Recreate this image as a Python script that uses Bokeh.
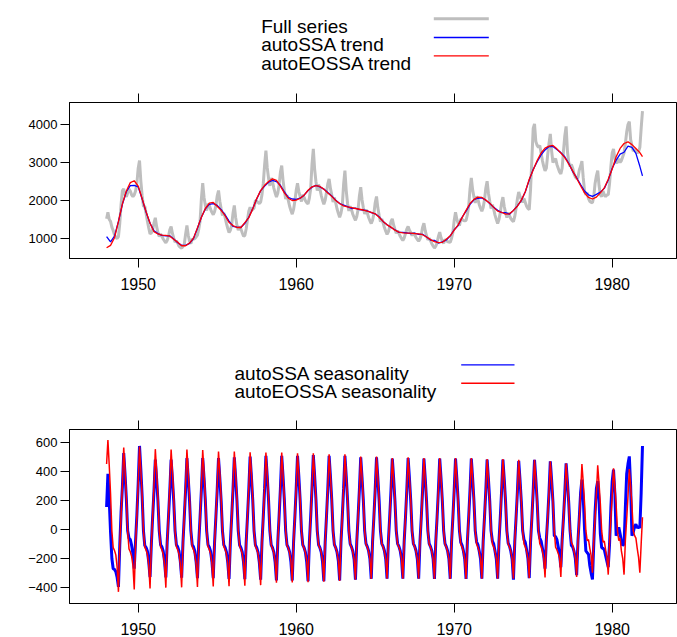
from bokeh.plotting import figure
from bokeh.layouts import column
from bokeh.models import Range1d, LinearAxis, FixedTicker
from bokeh.core.properties import value
from bokeh.embed import file_html
from bokeh.resources import INLINE

FONT = "Liberation Sans"
START_YEAR = 1948

# ---------------- data (monthly, Jan 1948 .. Dec 1981) ----------------
full_series = [
    1518, 1693, 1500, 1450, 1300, 1210, 1100, 1030, 1000, 1050, 1400, 1900,  # 1948
    2262, 2307, 2150, 2100, 2200, 2300, 2250, 2150, 2100, 2150, 2250, 2450,  # 1949
    2849, 3052, 2512, 2128, 1845, 1846, 1656, 1454, 1281, 1123, 1144, 1238,  # 1950
    1410, 1544, 1313, 1158, 1050, 1120, 1060, 987, 933, 890, 948, 1057,      # 1951
    1229, 1315, 1134, 1008, 905, 943, 876, 800, 770, 745, 790, 850,          # 1952
    1115, 1342, 1086, 931, 863, 987, 980, 1000, 1040, 1090, 1248, 1457,      # 1953
    2051, 2455, 2081, 1872, 1735, 1917, 1879, 1767, 1688, 1627, 1704, 1866,  # 1954
    2119, 2262, 1979, 1785, 1609, 1675, 1558, 1400, 1270, 1154, 1218, 1353,  # 1955
    1667, 1868, 1552, 1345, 1218, 1314, 1254, 1150, 1060, 1080, 1250, 1495,  # 1956
    1720, 1824, 1730, 1770, 1800, 2000, 1990, 1950, 1920, 1960, 2150, 2450,  # 1957
    2929, 3315, 2864, 2588, 2385, 2593, 2501, 2327, 2198, 2093, 2192, 2407,  # 1958
    2740, 2920, 2530, 2260, 2039, 2145, 2003, 1850, 1735, 1639, 1765, 1988,  # 1959
    2267, 2455, 2236, 2103, 1973, 2151, 2083, 1993, 1942, 1909, 2062, 2311,  # 1960
    2953, 3359, 2828, 2493, 2260, 2420, 2307, 2137, 2008, 1901, 2004, 2212,  # 1961
    2440, 2570, 2320, 2150, 1959, 2075, 1943, 1783, 1662, 1559, 1662, 1861,  # 1962
    2423, 2788, 2262, 1924, 1725, 1850, 1761, 1639, 1551, 1478, 1578, 1761,  # 1963
    2122, 2350, 2021, 1809, 1646, 1761, 1673, 1554, 1466, 1394, 1482, 1647,  # 1964
    1941, 2105, 1808, 1609, 1444, 1513, 1410, 1288, 1192, 1109, 1175, 1307,  # 1965
    1447, 1518, 1357, 1245, 1139, 1208, 1138, 1057, 998, 949, 1014, 1132,    # 1966
    1245, 1315, 1219, 1158, 1077, 1153, 1100, 1027, 973, 930, 988, 1097,     # 1967
    1294, 1403, 1205, 1072, 963, 1011, 943, 863, 802, 749, 797, 891,         # 1968
    1054, 1166, 1020, 927, 873, 971, 953, 920, 905, 899, 1007, 1161,         # 1969
    1476, 1693, 1505, 1403, 1339, 1515, 1508, 1473, 1467, 1474, 1625, 1846,  # 1970
    2303, 2596, 2281, 2094, 1936, 2108, 2033, 1897, 1798, 1719, 1819, 2014,  # 1971
    2325, 2508, 2193, 1983, 1791, 1891, 1769, 1617, 1498, 1397, 1497, 1683,  # 1972
    1938, 2087, 1843, 1681, 1549, 1678, 1603, 1524, 1476, 1444, 1582, 1797,  # 1973
    2044, 2226, 2102, 2020, 1950, 2050, 1950, 1850, 1790, 1760, 2300, 3100,  # 1974
    3900, 4017, 3550, 3450, 3400, 3450, 3250, 3050, 2900, 2780, 2850, 3200,  # 1975
    3500, 3754, 3300, 3000, 3050, 3100, 2950, 2850, 2750, 2700, 2850, 3300,  # 1976
    3700, 3950, 3300, 3000, 2900, 2950, 2850, 2700, 2620, 2580, 2600, 2800,  # 1977
    2900, 3034, 2600, 2250, 2150, 2200, 2050, 1980, 1950, 1940, 2100, 2450,  # 1978
    2650, 2788, 2400, 2150, 2100, 2250, 2150, 2100, 2150, 2150, 2450, 2900,  # 1979
    3250, 3359, 3100, 3000, 3000, 3100, 3000, 3050, 3150, 3250, 3500, 3800,  # 1980
    4000, 4078, 3600, 3450, 3300, 3350, 3300, 3250, 3280, 3400, 3900, 4350,  # 1981
]

# trends, quarterly readings (Jan, Apr, Jul, Oct) plus the last month (Dec 1981)
eossa_trend = [
    755, 820, 1020, 1450, 1912, 2250, 2470, 2520, 2380, 2050, 1700, 1400,
    1180, 1120, 1090, 1080, 1060, 980, 900, 810, 810, 880, 1010, 1280,
    1560, 1790, 1930, 1950, 1850, 1740, 1600, 1420, 1340, 1290, 1290, 1420,
    1550, 1780, 2050, 2260, 2400, 2500, 2570, 2530, 2380, 2200, 2060, 2000,
    2010, 2060, 2140, 2270, 2360, 2394, 2370, 2300, 2200, 2110, 2000, 1920,
    1860, 1830, 1810, 1790, 1770, 1750, 1720, 1690, 1650, 1560, 1450, 1360,
    1300, 1220, 1170, 1150, 1140, 1140, 1130, 1120, 1100, 1040, 970, 920,
    890, 900, 980, 1070, 1220, 1360, 1550, 1740, 1920, 2030, 2090, 2080,
    2010, 1930, 1820, 1720, 1690, 1640, 1650, 1740, 1850, 2010, 2230, 2560,
    2800, 3050, 3250, 3380, 3430, 3450, 3360, 3250, 3130, 2960, 2780, 2580,
    2390, 2200, 2080, 2040, 2090, 2200, 2330, 2560, 2830, 3150, 3370, 3500,
    3545, 3470, 3370, 3260, 3157,
]
ssa_trend = [
    1052, 910, 1060, 1450, 1900, 2230, 2390, 2400, 2360, 2040, 1690, 1400,
    1200, 1130, 1080, 1070, 1070, 990, 890, 820, 820, 870, 1000, 1270,
    1560, 1780, 1900, 1920, 1870, 1760, 1620, 1460, 1320, 1300, 1290, 1400,
    1560, 1790, 2040, 2260, 2380, 2480, 2530, 2500, 2400, 2230, 2080, 2040,
    2030, 2060, 2140, 2260, 2350, 2400, 2360, 2300, 2210, 2120, 2010, 1920,
    1880, 1840, 1790, 1800, 1760, 1750, 1730, 1680, 1650, 1570, 1450, 1360,
    1290, 1230, 1160, 1160, 1150, 1130, 1140, 1110, 1110, 1040, 960, 950,
    880, 910, 960, 1070, 1230, 1340, 1560, 1720, 1900, 2020, 2060, 2070,
    2010, 1920, 1820, 1740, 1680, 1680, 1640, 1740, 1860, 2000, 2230, 2540,
    2820, 3020, 3200, 3330, 3420, 3420, 3340, 3260, 3150, 2980, 2760, 2600,
    2420, 2250, 2150, 2110, 2160, 2220, 2320, 2540, 2850, 3060, 3220, 3270,
    3430, 3400, 3240, 2900, 2650,
]

ssa_season = [
    154, 381, 200, -20, -200, -270, -275, -290, -330, -395, -110, 120,   # 1948
    290, 524, 380, 210, -10, -60, -70, -110, -170, -270, -80, 100,       # 1949
    315, 573, 412, 229, -10, -111, -125, -150, -225, -327, -100, 90,     # 1950
    265, 480, 346, 192, -10, -105, -120, -150, -220, -330, -90, 85,      # 1951
    265, 480, 346, 192, -10, -105, -120, -150, -220, -332, -90, 85,      # 1952
    270, 490, 353, 196, -10, -105, -120, -150, -222, -335, -90, 86,      # 1953
    270, 490, 353, 196, -10, -105, -122, -152, -222, -335, -90, 86,      # 1954
    270, 490, 353, 196, -10, -106, -124, -154, -224, -340, -90, 86,      # 1955
    272, 495, 356, 198, -10, -107, -125, -155, -225, -342, -90, 87,      # 1956
    275, 500, 360, 200, -10, -107, -126, -156, -226, -345, -90, 88,      # 1957
    278, 505, 364, 202, -10, -106, -126, -156, -225, -350, -90, 88,      # 1958
    278, 505, 364, 202, -10, -106, -126, -156, -225, -352, -90, 88,      # 1959
    278, 505, 364, 202, -10, -106, -126, -156, -225, -355, -90, 88,      # 1960
    280, 510, 367, 204, -10, -106, -126, -156, -222, -355, -90, 88,      # 1961
    278, 505, 364, 202, -10, -105, -125, -155, -215, -350, -89, 87,      # 1962
    278, 505, 364, 202, -10, -100, -120, -150, -207, -345, -86, 86,      # 1963
    273, 495, 356, 198, -10, -98, -118, -148, -204, -340, -85, 84,       # 1964
    273, 495, 356, 198, -10, -97, -117, -147, -203, -338, -85, 84,       # 1965
    268, 487, 351, 195, -10, -97, -117, -147, -203, -338, -85, 83,       # 1966
    270, 490, 353, 196, -10, -97, -117, -147, -203, -338, -85, 83,       # 1967
    268, 487, 351, 195, -10, -98, -118, -148, -204, -340, -85, 83,       # 1968
    268, 487, 351, 195, -10, -98, -118, -148, -204, -340, -85, 83,       # 1969
    268, 487, 351, 195, -10, -90, -110, -148, -204, -340, -85, 83,       # 1970
    268, 487, 351, 195, -10, -85, -105, -148, -203, -338, -85, 83,       # 1971
    264, 480, 346, 192, -10, -80, -100, -148, -203, -338, -85, 82,       # 1972
    264, 480, 346, 192, -10, -95, -115, -150, -205, -345, -85, 82,       # 1973
    258, 470, 338, 188, -10, -70, -90, -140, -200, -335, -84, 80,        # 1974
    263, 478, 344, 191, -10, -60, -80, -130, -180, -270, -70, 81,        # 1975
    257, 467, 336, 187, -43, -50, -70, -120, -170, -260, -70, 79,        # 1976
    249, 453, 326, 181, -9, -111, -120, -150, -200, -315, -80, 77,       # 1977
    250, 342, 220, 0, -148, -160, -170, -250, -300, -343, -100, 120,     # 1978
    280, 331, 200, -30, -125, -130, -140, -180, -220, -259, -100, 150,   # 1979
    330, 410, 250, -43, -20, 14, -30, -80, -111, -100, 150, 380,         # 1980
    450, 501, 300, -43, -20, 20, 36, 10, 20, 10, 250, 573,               # 1981
]

eossa_season = [
    449, 614, 440, 245, -12, -125, -145, -175, -260, -429, -107, 95,     # 1948
    309, 562, 405, 225, -11, -134, -154, -184, -248, -413, -103, 96,     # 1949
    313, 569, 410, 228, -11, -122, -142, -172, -244, -406, -102, 97,     # 1950
    303, 551, 397, 220, -11, -120, -140, -170, -240, -400, -100, 94,     # 1951
    302, 549, 395, 220, -11, -119, -139, -169, -239, -398, -100, 93,     # 1952
    302, 549, 395, 220, -11, -119, -139, -169, -238, -396, -99, 93,      # 1953
    300, 545, 392, 218, -11, -118, -138, -168, -235, -392, -98, 93,      # 1954
    294, 535, 385, 214, -11, -117, -137, -167, -234, -390, -98, 91,      # 1955
    294, 535, 385, 214, -11, -116, -136, -166, -232, -387, -97, 91,      # 1956
    292, 530, 382, 212, -11, -115, -135, -165, -230, -383, -96, 90,      # 1957
    290, 527, 379, 211, -11, -110, -130, -160, -220, -367, -92, 90,      # 1958
    290, 527, 379, 211, -11, -110, -130, -160, -219, -365, -91, 90,      # 1959
    288, 523, 377, 209, -10, -109, -129, -159, -218, -363, -91, 89,      # 1960
    288, 523, 377, 209, -10, -108, -128, -158, -216, -360, -90, 89,      # 1961
    283, 515, 371, 206, -10, -107, -127, -157, -213, -355, -89, 88,      # 1962
    283, 515, 371, 206, -10, -104, -124, -154, -207, -345, -86, 88,      # 1963
    276, 501, 361, 200, -10, -102, -122, -152, -204, -340, -85, 85,      # 1964
    276, 501, 361, 200, -10, -101, -121, -151, -203, -338, -85, 85,      # 1965
    270, 490, 353, 196, -10, -101, -121, -151, -203, -338, -85, 83,      # 1966
    272, 495, 356, 198, -10, -101, -121, -151, -203, -338, -85, 84,      # 1967
    270, 490, 353, 196, -10, -102, -122, -152, -204, -340, -85, 83,      # 1968
    270, 490, 353, 196, -10, -102, -122, -152, -204, -340, -85, 83,      # 1969
    270, 490, 353, 196, -10, -102, -122, -152, -204, -340, -85, 83,      # 1970
    270, 490, 353, 196, -10, -101, -121, -151, -203, -338, -85, 83,      # 1971
    266, 483, 348, 193, -10, -101, -121, -151, -203, -338, -85, 82,      # 1972
    266, 483, 348, 193, -10, -101, -121, -151, -203, -338, -85, 82,      # 1973
    263, 478, 344, 191, -10, -100, -120, -150, -201, -335, -84, 81,      # 1974
    263, 478, 344, 191, -10, -99, -119, -149, -198, -330, -83, 81,       # 1975
    257, 467, 336, 187, -9, -122, -140, -165, -196, -327, -82, 79,       # 1976
    249, 453, 326, 181, -9, -88, -108, -150, -196, -327, -82, 77,        # 1977
    247, 449, 323, 180, -9, -77, -70, -130, -180, -297, -74, 76,         # 1978
    242, 440, 317, 176, -9, -88, -80, -140, -190, -311, -78, 75,         # 1979
    231, 420, 302, 168, -9, -77, -60, -150, -200, -311, -78, 71,         # 1980
    228, 415, 299, 166, -9, -43, -60, -130, -190, -297, -100, 83,        # 1981
]

x_ticks = [1950, 1960, 1970, 1980]
top_y_ticks = [1000, 2000, 3000, 4000]
bottom_y_ticks = [-400, -200, 0, 200, 400, 600]
top_labels = ["Full series", "autoSSA trend", "autoEOSSA trend"]
bottom_labels = ["autoSSA seasonality", "autoEOSSA seasonality"]

# time axes
months = [START_YEAR + i / 12 for i in range(len(full_series))]
quarters = [START_YEAR + i / 4 for i in range(len(eossa_trend) - 1)] + [months[-1]]

W = 677
BL, BR = 69, 1            # left / right border -> frame from x=69 to x=676
FRAME_W = W - BL - BR
X0 = 1950 - (137.7 - BL) / 15.8
X1 = X0 + FRAME_W / 15.8


def style_axis(ax, size):
    ax.axis_line_color = "black"
    ax.major_tick_line_color = "black"
    ax.major_tick_in = 0
    ax.major_tick_out = 9
    ax.minor_tick_line_color = None
    ax.major_label_text_font = FONT
    ax.major_label_text_font_size = size
    ax.major_label_text_color = "black"


def panel(height, y0, y1, yt, top_border, bottom_border):
    p = figure(width=W, height=height, x_range=Range1d(X0, X1), y_range=Range1d(y0, y1),
               toolbar_location=None, output_backend="svg",
               x_axis_location=None, y_axis_location=None,
               min_border_left=BL, min_border_right=BR,
               min_border_top=top_border, min_border_bottom=bottom_border)
    p.grid.visible = False
    p.outline_line_color = "black"
    p.outline_line_width = 1
    p.background_fill_color = "white"
    p.border_fill_color = "white"

    xb = LinearAxis(ticker=FixedTicker(ticks=x_ticks))
    style_axis(xb, "16px")
    xb.major_label_standoff = 10
    p.add_layout(xb, "below")

    xt = LinearAxis(ticker=FixedTicker(ticks=x_ticks))
    style_axis(xt, "1px")
    xt.major_label_overrides = {t: "" for t in x_ticks}
    xt.major_label_standoff = 0
    p.add_layout(xt, "above")

    yl = LinearAxis(ticker=FixedTicker(ticks=yt))
    style_axis(yl, "13px")
    yl.major_label_orientation = "horizontal"
    yl.major_label_standoff = 3
    p.add_layout(yl, "left")
    return p


def legend_fig(height, labels, colors, widths, text_x, lx0, lx1, base_y, line_y):
    # x and y coordinates of this figure are page pixels (frame aligned with the panels)
    f = figure(width=W, height=height, x_range=Range1d(BL, W - BR), y_range=Range1d(height, 0),
               toolbar_location=None, output_backend="svg",
               x_axis_location=None, y_axis_location=None,
               min_border_left=BL, min_border_right=BR, min_border_top=0, min_border_bottom=0)
    f.outline_line_color = None
    f.grid.visible = False
    f.text(x=[text_x] * len(labels), y=base_y, text=labels,
           text_font=value(FONT), text_font_size="19px",
           text_baseline="alphabetic", text_align="left", text_color="black")
    f.segment(x0=[lx0] * len(labels), x1=[lx1] * len(labels), y0=line_y, y1=line_y,
              line_color=colors, line_width=widths)
    return f


leg1 = legend_fig(82, top_labels, ["#BEBEBE", "#0000FF", "#FF0000"], [3, 1.3, 1.3],
                  260.7, 433.3, 488.3, [26, 44.3, 62.5], [18.3, 37, 55.3])

p1 = panel(228, 474, 4579, top_y_ticks, 20, 52)
p1.line(months, full_series, line_color="#BEBEBE", line_width=3)
p1.line(quarters, ssa_trend, line_color="#0000FF", line_width=1.3)
p1.line(quarters, eossa_trend, line_color="#FF0000", line_width=1.3)

leg2 = legend_fig(99, bottom_labels, ["#0000FF", "#FF0000"], [1.3, 1.6],
                  234, 460.7, 514, [62.7, 81], [54.3, 72.7])

p2 = panel(228, -509, 686, bottom_y_ticks, 20, 32)
p2.line(months, ssa_season, line_color="#0000FF", line_width=3)
p2.line(months, eossa_season, line_color="#FF0000", line_width=1.5)

layout = column(leg1, p1, leg2, p2, spacing=0)
open("out.html", "w").write(file_html(layout, INLINE))
